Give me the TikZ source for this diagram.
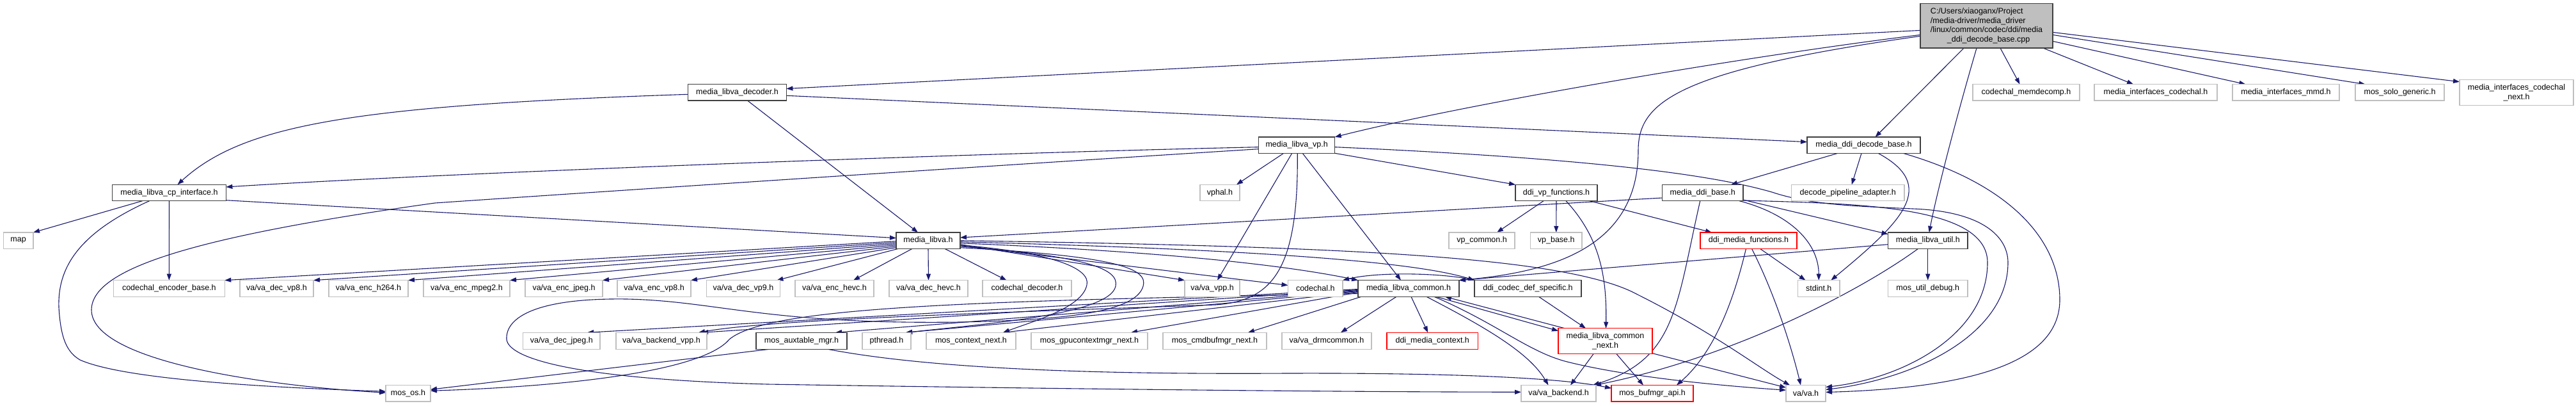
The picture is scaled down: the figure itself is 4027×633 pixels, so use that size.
\documentclass[tikz,border=0pt]{standalone}
\usepackage{fontspec}
\setmainfont{Liberation Sans}
\usetikzlibrary{arrows.meta,calc}
\definecolor{edgec}{HTML}{191970}
\definecolor{grayb}{HTML}{BFBFBF}
\definecolor{darkb}{HTML}{404040}
\pgfdeclarelayer{back}\pgfdeclarelayer{edges}
\pgfsetlayers{back,edges,main}
\newcommand\dxbox[7]{\node[#1, minimum width={(#4-#3)*1pt}, minimum height={(#6-#5)*1pt}] (#2) at ({(#3+#4)/2},{(#5+#6)/2}) {#7};}
\begin{document}
\begin{tikzpicture}[x=1pt,y=-1pt,
  font={\fontsize{12.5}{14.7}\selectfont},
  box/.style={draw, rectangle, inner sep=0pt, outer sep=0pt, fill=white, line width=1.3pt, align=center},
  doc/.style={box, draw=darkb},
  nodoc/.style={box, draw=grayb},
  redb/.style={box, draw=red},
  mainb/.style={box, draw=darkb, fill=grayb, align=left},
  dep/.style={draw=edgec, line width=1.1pt, -{Triangle[length=10pt,width=7pt]}}]
\begin{pgfonlayer}{back}\fill[white] (0,0) rectangle (4027,633);\end{pgfonlayer}
\useasboundingbox (0,0) rectangle (4027,633);
% row 0
\dxbox{mainb}{M}{3002}{3209}{5.7}{75.1}{C:/Users/xiaoganx/Project\\/media-driver/media\_driver\\/linux/common/codec/ddi/media\\\hspace*{26pt}\_ddi\_decode\_base.cpp}
% row 1
\dxbox{doc}{DEC}{1075.5}{1229.4}{131.6}{157}{media\_libva\_decoder.h}
\dxbox{nodoc}{memd}{3084}{3251}{131.6}{157}{codechal\_memdecomp.h}
\dxbox{nodoc}{mic}{3274}{3466}{131.6}{157}{media\_interfaces\_codechal.h}
\dxbox{nodoc}{mmd}{3490}{3657}{131.6}{157}{media\_interfaces\_mmd.h}
\dxbox{nodoc}{solo}{3682}{3821}{131.6}{157}{mos\_solo\_generic.h}
\dxbox{nodoc}{micn}{3845}{4023}{124.7}{164.3}{media\_interfaces\_codechal\\\_next.h}
% row 2
\dxbox{doc}{VP}{1967.7}{2086.7}{214}{239.3}{media\_libva\_vp.h}
\dxbox{doc}{DB}{2825}{3002}{214}{239.3}{media\_ddi\_decode\_base.h}
% row 3
\dxbox{doc}{cp}{175.6}{353.4}{288.3}{313.7}{media\_libva\_cp\_interface.h}
\dxbox{nodoc}{vphal}{1876}{1938}{288.3}{313.7}{vphal.h}
\dxbox{doc}{DVF}{2369}{2497}{288.3}{313.7}{ddi\_vp\_functions.h}
\dxbox{doc}{MB}{2598.5}{2725}{288.3}{313.7}{media\_ddi\_base.h}
\dxbox{nodoc}{dpa}{2800.5}{2977}{288.3}{313.7}{decode\_pipeline\_adapter.h}
% row 4
\dxbox{nodoc}{map}{5.2}{52}{363}{388.4}{map}
\dxbox{doc}{ML}{1401}{1501}{363}{388.4}{media\_libva.h}
\dxbox{nodoc}{vpc}{2265}{2368}{363}{388.4}{vp\_common.h}
\dxbox{nodoc}{vpb}{2392.5}{2473}{363}{388.4}{vp\_base.h}
\dxbox{redb}{DMF}{2658}{2809}{363}{388.4}{ddi\_media\_functions.h}
\dxbox{doc}{util}{2951.5}{3076}{363}{388.4}{media\_libva\_util.h}
% row 5
\dxbox{nodoc}{ceb}{177.4}{351.3}{437.7}{463.3}{codechal\_encoder\_base.h}
\dxbox{nodoc}{dvp8}{375}{490}{437.7}{463.3}{va/va\_dec\_vp8.h}
\dxbox{nodoc}{eh264}{514}{638}{437.7}{463.3}{va/va\_enc\_h264.h}
\dxbox{nodoc}{mpeg2}{662}{797}{437.7}{463.3}{va/va\_enc\_mpeg2.h}
\dxbox{nodoc}{ejpeg}{821}{942}{437.7}{463.3}{va/va\_enc\_jpeg.h}
\dxbox{nodoc}{evp8}{965}{1080}{437.7}{463.3}{va/va\_enc\_vp8.h}
\dxbox{nodoc}{dvp9}{1104.5}{1219.4}{437.7}{463.3}{va/va\_dec\_vp9.h}
\dxbox{nodoc}{ehevc}{1243}{1366}{437.7}{463.3}{va/va\_enc\_hevc.h}
\dxbox{nodoc}{dhevc}{1390}{1513}{437.7}{463.3}{va/va\_dec\_hevc.h}
\dxbox{nodoc}{cdec}{1536}{1675}{437.7}{463.3}{codechal\_decoder.h}
\dxbox{nodoc}{vavpp}{1852}{1938}{437.7}{463.3}{va/va\_vpp.h}
\dxbox{nodoc}{cch}{2013.5}{2099}{437.7}{463.3}{codechal.h}
\dxbox{doc}{common}{2123}{2281}{437.7}{463.3}{media\_libva\_common.h}
\dxbox{doc}{ddi}{2305}{2472}{437.7}{463.3}{ddi\_codec\_def\_specific.h}
\dxbox{nodoc}{stdint}{2810.5}{2876}{437.7}{463.3}{stdint.h}
\dxbox{nodoc}{mud}{2951.5}{3076}{437.7}{463.3}{mos\_util\_debug.h}
% row 6
\dxbox{nodoc}{djpeg}{817.6}{938}{519.3}{545.3}{va/va\_dec\_jpeg.h}
\dxbox{nodoc}{bvpp}{963}{1105}{519.3}{545.3}{va/va\_backend\_vpp.h}
\dxbox{doc}{aux}{1182}{1324}{519.3}{545.3}{mos\_auxtable\_mgr.h}
\dxbox{nodoc}{pthr}{1348}{1424}{519.3}{545.3}{pthread.h}
\dxbox{nodoc}{ctxn}{1448}{1588}{519.3}{545.3}{mos\_context\_next.h}
\dxbox{nodoc}{gpu}{1612}{1794}{519.3}{545.3}{mos\_gpucontextmgr\_next.h}
\dxbox{nodoc}{cmdbuf}{1818}{1980}{519.3}{545.3}{mos\_cmdbufmgr\_next.h}
\dxbox{nodoc}{drm}{2004}{2144}{519.3}{545.3}{va/va\_drmcommon.h}
\dxbox{redb}{dmc}{2168}{2310.5}{519.3}{545.3}{ddi\_media\_context.h}
\dxbox{redb}{cn}{2436}{2583}{512.7}{552.7}{media\_libva\_common\\\_next.h}
% row 7
\dxbox{nodoc}{mosos}{603}{673}{601.5}{627}{mos\_os.h}
\dxbox{nodoc}{vab}{2378}{2495}{601.5}{627}{va/va\_backend.h}
\dxbox{redb}{mba}{2519}{2647}{601.5}{627}{mos\_bufmgr\_api.h}
\dxbox{nodoc}{vah}{2792}{2854}{601.5}{627}{va/va.h}

\begin{pgfonlayer}{edges}
% main
\draw[dep] ($(M.west)+(0,7)$) -- ($(DEC.east)+(0,-5.8)$);
\draw[dep] ($(M.west)+(0,14)$) .. controls (2750,85) and (2300,160) .. (VP.north east);
\draw[dep] ($(M.west)+(0,16)$) .. controls (2620,110) and (2561,160) .. (2561,235) .. controls (2561,390) and (2420,425) .. (common.north east);
\draw[dep] ($(M.south west)+(68,0)$) -- ($(DB.north)+(18,0)$);
\draw[dep] ($(M.south west)+(88,0)$) .. controls (3065,160) and (3030,290) .. ($(util.north)+(2,0)$);
\draw[dep] ($(M.south west)+(125,0)$) -- ($(memd.north)+(-10,0)$);
\draw[dep] ($(M.south east)+(-15,0)$) -- ($(mic.north)+(-35,0)$);
\draw[dep] ($(M.east)+(0,24)$) -- ($(mmd.north)+(-63,0)$);
\draw[dep] ($(M.east)+(0,14)$) -- ($(solo.north)+(-54,0)$);
\draw[dep] ($(M.east)+(0,10)$) -- ($(micn.north west)+(0,3)$);
% decoder
\draw[dep] ($(DEC.west)+(0,3)$) .. controls (550,165) and (380,195) .. ($(cp.north)+(13,0)$);
\draw[dep] ($(DEC.east)+(0,5)$) -- ($(DB.west)+(0,-5)$);
\draw[dep] ($(DEC.south)+(16,0)$) -- ($(ML.north)+(-16,0)$);
% vp
\draw[dep] ($(VP.west)+(0,3)$) .. controls (1500,240) and (700,270) .. ($(cp.east)+(0,-9)$);
\draw[dep] ($(VP.west)+(0,6)$) .. controls (1500,262) and (900,302) .. (680,317) .. controls (300,370) and (143,420) .. (143,484) .. controls (143,565) and (420,603) .. ($(mosos.west)+(0,-1)$);
\draw[dep] ($(VP.south west)+(39,0)$) -- ($(vphal.north east)+(-5,0)$);
\draw[dep] ($(VP.south west)+(52,0)$) -- ($(vavpp.north)+(8,0)$);
\draw[dep] ($(VP.south)+(1,0)$) .. controls (2030,420) and (1990,470) .. (1900,476) .. controls (1500,490) and (1200,500) .. ($(bvpp.north east)+(-13,0)$);
\draw[dep] (VP.south east) -- (DVF.north west);
\draw[dep] ($(VP.south)+(9,0)$) -- ($(common.north)+(-12,0)$);
\draw[dep] ($(VP.east)+(0,3)$) .. controls (2550,250) and (2700,280) .. (2770,300) .. controls (2830,320) and (2900,322) .. (2990,326) .. controls (3100,330) and (3139,370) .. (3139,410) .. controls (3139,520) and (3000,590) .. ($(vah.north east)+(0,7)$);
% decode base
\draw[dep] ($(DB.south west)+(48,0)$) -- ($(MB.north east)+(-19,0)$);
\draw[dep] ($(DB.south west)+(85,0)$) -- ($(dpa.north)+(6,0)$);
\draw[dep] ($(DB.south west)+(111,0)$) .. controls (3030,290) and (2975,345) .. ($(stdint.north)+(19,0)$);
\draw[dep] ($(DB.south east)+(-27,0)$) .. controls (3150,290) and (3220,380) .. (3220,468) .. controls (3220,560) and (3100,605) .. ($(vah.north east)+(0,11)$);
% ddi base
\draw[dep] ($(MB.west)+(0,8)$) -- ($(ML.east)+(0,-4.7)$);
\draw[dep] ($(MB.east)+(0,11)$) -- ($(util.west)+(0,-10)$);
\draw[dep] ($(MB.south east)+(-6,0)$) .. controls (2800,335) and (2843,380) .. (stdint.north);
\draw[dep] ($(MB.east)+(0,12)$) .. controls (2900,318) and (3107,320) .. (3107,410) .. controls (3107,520) and (2980,590) .. ($(vah.north east)+(0,3)$);
\draw[dep] ($(MB.south)+(-4,0)$) .. controls (2620,480) and (2620,560) .. ($(vab.north east)+(-5,0)$);
% ddi vp functions
\draw[dep] ($(DVF.south)+(-20,0)$) -- ($(vpc.north east)+(-28,0)$);
\draw[dep] (DVF.south) -- (vpb.north);
\draw[dep] ($(DVF.south)+(15,0)$) .. controls (2500,370) and (2512,430) .. ($(cn.north)+(1,0)$);
\draw[dep] ($(DVF.south east)+(-12,0)$) -- ($(DMF.north west)+(18,0)$);
% ddi media functions
\draw[dep] ($(DMF.south)+(18,0)$) -- ($(stdint.north west)+(12,0)$);
\draw[dep] ($(DMF.south)+(5,0)$) .. controls (2780,470) and (2805,560) .. ($(vah.north)+(-8,0)$);
\draw[dep] ($(DMF.south)+(-4,0)$) .. controls (2710,470) and (2680,550) .. ($(mba.north east)+(-26,0)$);
% util
\draw[dep] (util.south) -- (mud.north);
\draw[dep] ($(util.west)+(0,6)$) -- (common.north east);
\draw[dep] ($(util.south west)+(47,0)$) .. controls (2900,460) and (2700,560) .. ($(vab.north east)+(-2,0)$);
% media_libva.h
\draw[dep] ($(ML.west)+(0,1)$) -- (ceb.north east);
\draw[dep] ($(ML.west)+(0,3)$) -- (dvp8.north east);
\draw[dep] ($(ML.west)+(0,5)$) -- (eh264.north east);
\draw[dep] ($(ML.west)+(0,7)$) -- (mpeg2.north east);
\draw[dep] ($(ML.west)+(0,9)$) -- (ejpeg.north east);
\draw[dep] ($(ML.west)+(0,11)$) -- (evp8.north east);
\draw[dep] ($(ML.south west)+(3,0)$) -- ($(dvp9.north east)+(-5,0)$);
\draw[dep] ($(ML.south west)+(25,0)$) -- ($(ehevc.north east)+(-32,0)$);
\draw[dep] (ML.south) -- (dhevc.north);
\draw[dep] ($(ML.south)+(26,0)$) -- ($(cdec.north)+(-32,0)$);
\draw[dep] ($(ML.east)+(0,6)$) -- (vavpp.north west);
\draw[dep] ($(ML.east)+(0,8)$) -- ($(cch.west)+(0,-5)$);
\draw[dep] ($(ML.east)+(0,4)$) .. controls (1800,392) and (2000,412) .. (common.north west);
\draw[dep] ($(ML.east)+(0,2)$) .. controls (1900,388) and (2200,405) .. (ddi.north west);
\draw[dep] (ML.east) .. controls (2100,385) and (2450,400) .. (2560,460) .. controls (2680,520) and (2750,575) .. ($(vah.north west)+(6,0)$);
\draw[dep] ($(ML.east)+(0,7)$) .. controls (1650,395) and (1705,420) .. (1699,445) .. controls (1692,480) and (1620,500) .. ($(ctxn.north east)+(-20,0)$);
\draw[dep] ($(ML.east)+(0,9)$) .. controls (1700,400) and (1750,420) .. (1744,447) .. controls (1735,490) and (1550,505) .. ($(pthr.north east)+(-8,0)$);
\draw[dep] ($(ML.east)+(0,11)$) .. controls (1750,400) and (1795,420) .. (1787,447) .. controls (1775,490) and (1650,500) .. (1500,503) .. controls (1200,507) and (1120,470) .. (980,467) .. controls (840,465) and (790,495) .. (792,530) .. controls (795,560) and (900,592) .. (1200,600) .. controls (1700,608) and (2100,612) .. ($(vab.west)+(0,-2)$);
% media_libva_common.h
\draw[dep] ($(common.south west)+(60,0)$) -- ($(drm.north east)+(-48,0)$);
\draw[dep] ($(common.south west)+(83,0)$) -- ($(dmc.north)+(-7,0)$);
\draw[dep] ($(common.south east)+(-36,0)$) -- ($(cn.west)+(0,-16)$);
\draw[dep] ($(common.south)+(28,0)$) .. controls (2320,510) and (2390,550) .. ($(vab.north)+(-16,0)$);
\draw[dep] ($(common.south)+(40,0)$) .. controls (2340,505) and (2390,550) .. (2450,565) .. controls (2550,590) and (2700,603) .. ($(vah.west)+(0,-5)$);
\draw[dep] ($(common.south west)+(5,0)$) -- ($(cmdbuf.north east)+(-29,0)$);
\draw[dep] ($(common.west)+(0,6)$) -- ($(gpu.north east)+(-26,0)$);
\draw[dep] ($(common.west)+(0,5)$) -- ($(ctxn.north east)+(-20,0)$);
\draw[dep] ($(common.west)+(0,4)$) -- ($(pthr.north east)+(-8,0)$);
\draw[dep] ($(common.west)+(0,3)$) -- ($(aux.north east)+(-18,0)$);
\draw[dep] ($(common.west)+(0,2)$) -- ($(bvpp.north east)+(-8,0)$);
\draw[dep] ($(common.west)+(0,1)$) -- ($(djpeg.north east)+(-20,0)$);
\draw[dep] ($(common.west)+(0,8)$) .. controls (1500,470) and (1200,480) .. (1140,530) .. controls (1100,578) and (900,603) .. ($(mosos.east)+(0,-4)$);
% ddi_codec_def_specific.h
\draw[dep] ($(ddi.south)+(17,0)$) -- ($(cn.north west)+(43,0)$);
\draw[dep] ($(ddi.north west)+(2,0)$) .. controls (2250,425) and (2150,425) .. (cch.north east);
% media_libva_common_next.h
\draw[dep] ($(cn.north west)+(10,0)$) -- ($(common.south east)+(-22,0)$);
\draw[dep] ($(cn.south west)+(55,0)$) -- ($(vab.north east)+(-40,0)$);
\draw[dep] ($(cn.south west)+(91,0)$) -- ($(mba.north west)+(50,0)$);
\draw[dep] ($(cn.south east)+(0,-1)$) -- ($(vah.west)+(0,-9)$);
% mos_auxtable_mgr.h
\draw[dep] ($(aux.south west)+(21,0)$) -- ($(mosos.east)+(0,-6)$);
\draw[dep] ($(aux.south east)+(-30,0)$) .. controls (1450,575) and (1700,585) .. (2010,583) .. controls (2300,582) and (2450,592) .. ($(mba.west)+(0,-8)$);
% media_libva_cp_interface.h
\draw[dep] ($(cp.south west)+(47,0)$) -- (map.north east);
\draw[dep] (cp.south) -- (ceb.north);
\draw[dep] ($(cp.south east)+(0,-1)$) -- ($(ML.west)+(0,-4)$);
\draw[dep] ($(cp.south west)+(58,0)$) .. controls (120,365) and (90,420) .. (92,480) .. controls (95,530) and (105,550) .. (125,562) .. controls (200,595) and (450,606) .. ($(mosos.west)+(0,-3)$);
\end{pgfonlayer}
\end{tikzpicture}
\end{document}
